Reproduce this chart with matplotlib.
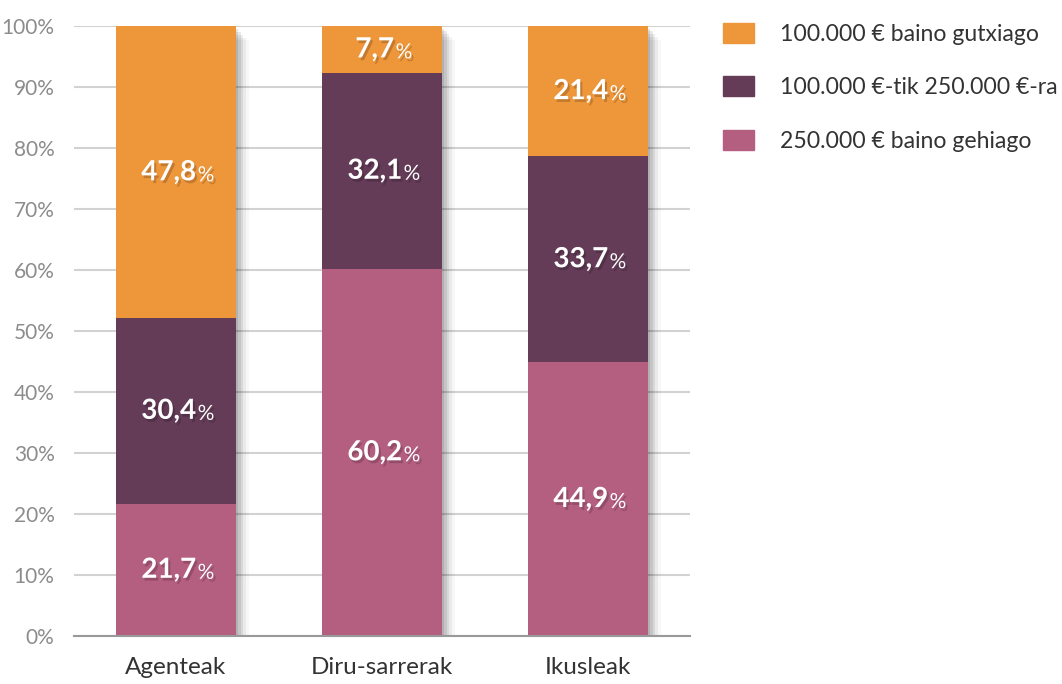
import matplotlib.pyplot as plt
import matplotlib.patheffects as pe
import numpy as np

plt.rcParams['font.family'] = ['Lato', 'DejaVu Sans']

categories = ['Agenteak', 'Diru-sarrerak', 'Ikusleak']
series_names = ['100.000 € baino gutxiago', '100.000 €-tik 250.000 €-ra', '250.000 € baino gehiago']
# values stacked from bottom: >250k, 100k-250k, <100k
over_250 = [21.7, 60.2, 44.9]
mid_range = [30.4, 32.1, 33.7]
under_100 = [47.8, 7.7, 21.4]
yticks = [0, 10, 20, 30, 40, 50, 60, 70, 80, 90, 100]
ytick_labels = ['0%', '10%', '20%', '30%', '40%', '50%', '60%', '70%', '80%', '90%', '100%']

c_orange = '#EE963A'
c_purple = '#643C57'
c_pink = '#B45E80'

fig = plt.figure(figsize=(10.62, 6.84), dpi=100)
ax = fig.add_axes([0.0697, 0.0702, 0.58, 0.892])

x = np.arange(len(categories))
w = 0.587

# soft shadow behind full stacks
totals = np.array(over_250) + np.array(mid_range) + np.array(under_100)
for off, a in [((1, -2), 0.10), ((3, -4), 0.09), ((5, -6), 0.07), ((7, -8), 0.05), ((9, -10), 0.03)]:
    ax.bar(x, totals, w, color='white', zorder=2,
           path_effects=[pe.SimplePatchShadow(offset=off, shadow_rgbFace='black', alpha=a)])

b1 = ax.bar(x, over_250, w, color=c_pink, zorder=3)
b2 = ax.bar(x, mid_range, w, bottom=over_250, color=c_purple, zorder=3)
b3 = ax.bar(x, under_100, w, bottom=np.array(over_250) + np.array(mid_range), color=c_orange, zorder=3)

txt_fx = [pe.SimplePatchShadow(offset=(1.5, -2), shadow_rgbFace='black', alpha=0.18), pe.Normal()]
for bars in (b1, b2, b3):
    for r in bars:
        h = r.get_height()
        cx = r.get_x() + r.get_width() / 2
        cy = r.get_y() + h / 2
        t = ax.text(cx - 0.035, cy, f'{h:.1f}'.replace('.', ','), ha='center', va='center',
                    color='white', fontsize=20, fontweight='bold', zorder=5, path_effects=txt_fx)
        ax.annotate('%', xy=(1, 0.0), xycoords=t, xytext=(1, 0), textcoords='offset points',
                    ha='left', va='bottom', color='white',
                    fontsize=15, zorder=5, path_effects=txt_fx)

ax.set_xlim(-0.495, 2.495)
ax.set_ylim(0, 100)
ax.set_yticks(yticks)
ax.set_yticklabels(ytick_labels)
ax.set_xticks(x)
ax.set_xticklabels(categories)
ax.yaxis.grid(True, color='#d2d2d2', lw=1.5, zorder=0)
ax.set_axisbelow(True)
for s in ['left', 'right', 'top']:
    ax.spines[s].set_visible(False)
ax.spines['bottom'].set_color('#999999')
ax.spines['bottom'].set_linewidth(1.5)
ax.spines['bottom'].set_zorder(4)
ax.tick_params(axis='y', length=0, pad=14, labelsize=15, labelcolor='#8c8c8c')
ax.tick_params(axis='x', length=0, pad=15, labelsize=17.5, labelcolor='#333333')

handles = [plt.Rectangle((0, 0), 1, 1, color=c) for c in (c_orange, c_purple, c_pink)]
fig.legend(handles, series_names, loc='upper left', bbox_to_anchor=(0.681, 0.966),
           frameon=False, prop={'size': 16.6}, handlelength=1.33, handleheight=0.95,
           handletextpad=1.15, labelspacing=1.36, borderpad=0, borderaxespad=0,
           labelcolor='#333333')

fig.savefig('out.png', dpi=100)
